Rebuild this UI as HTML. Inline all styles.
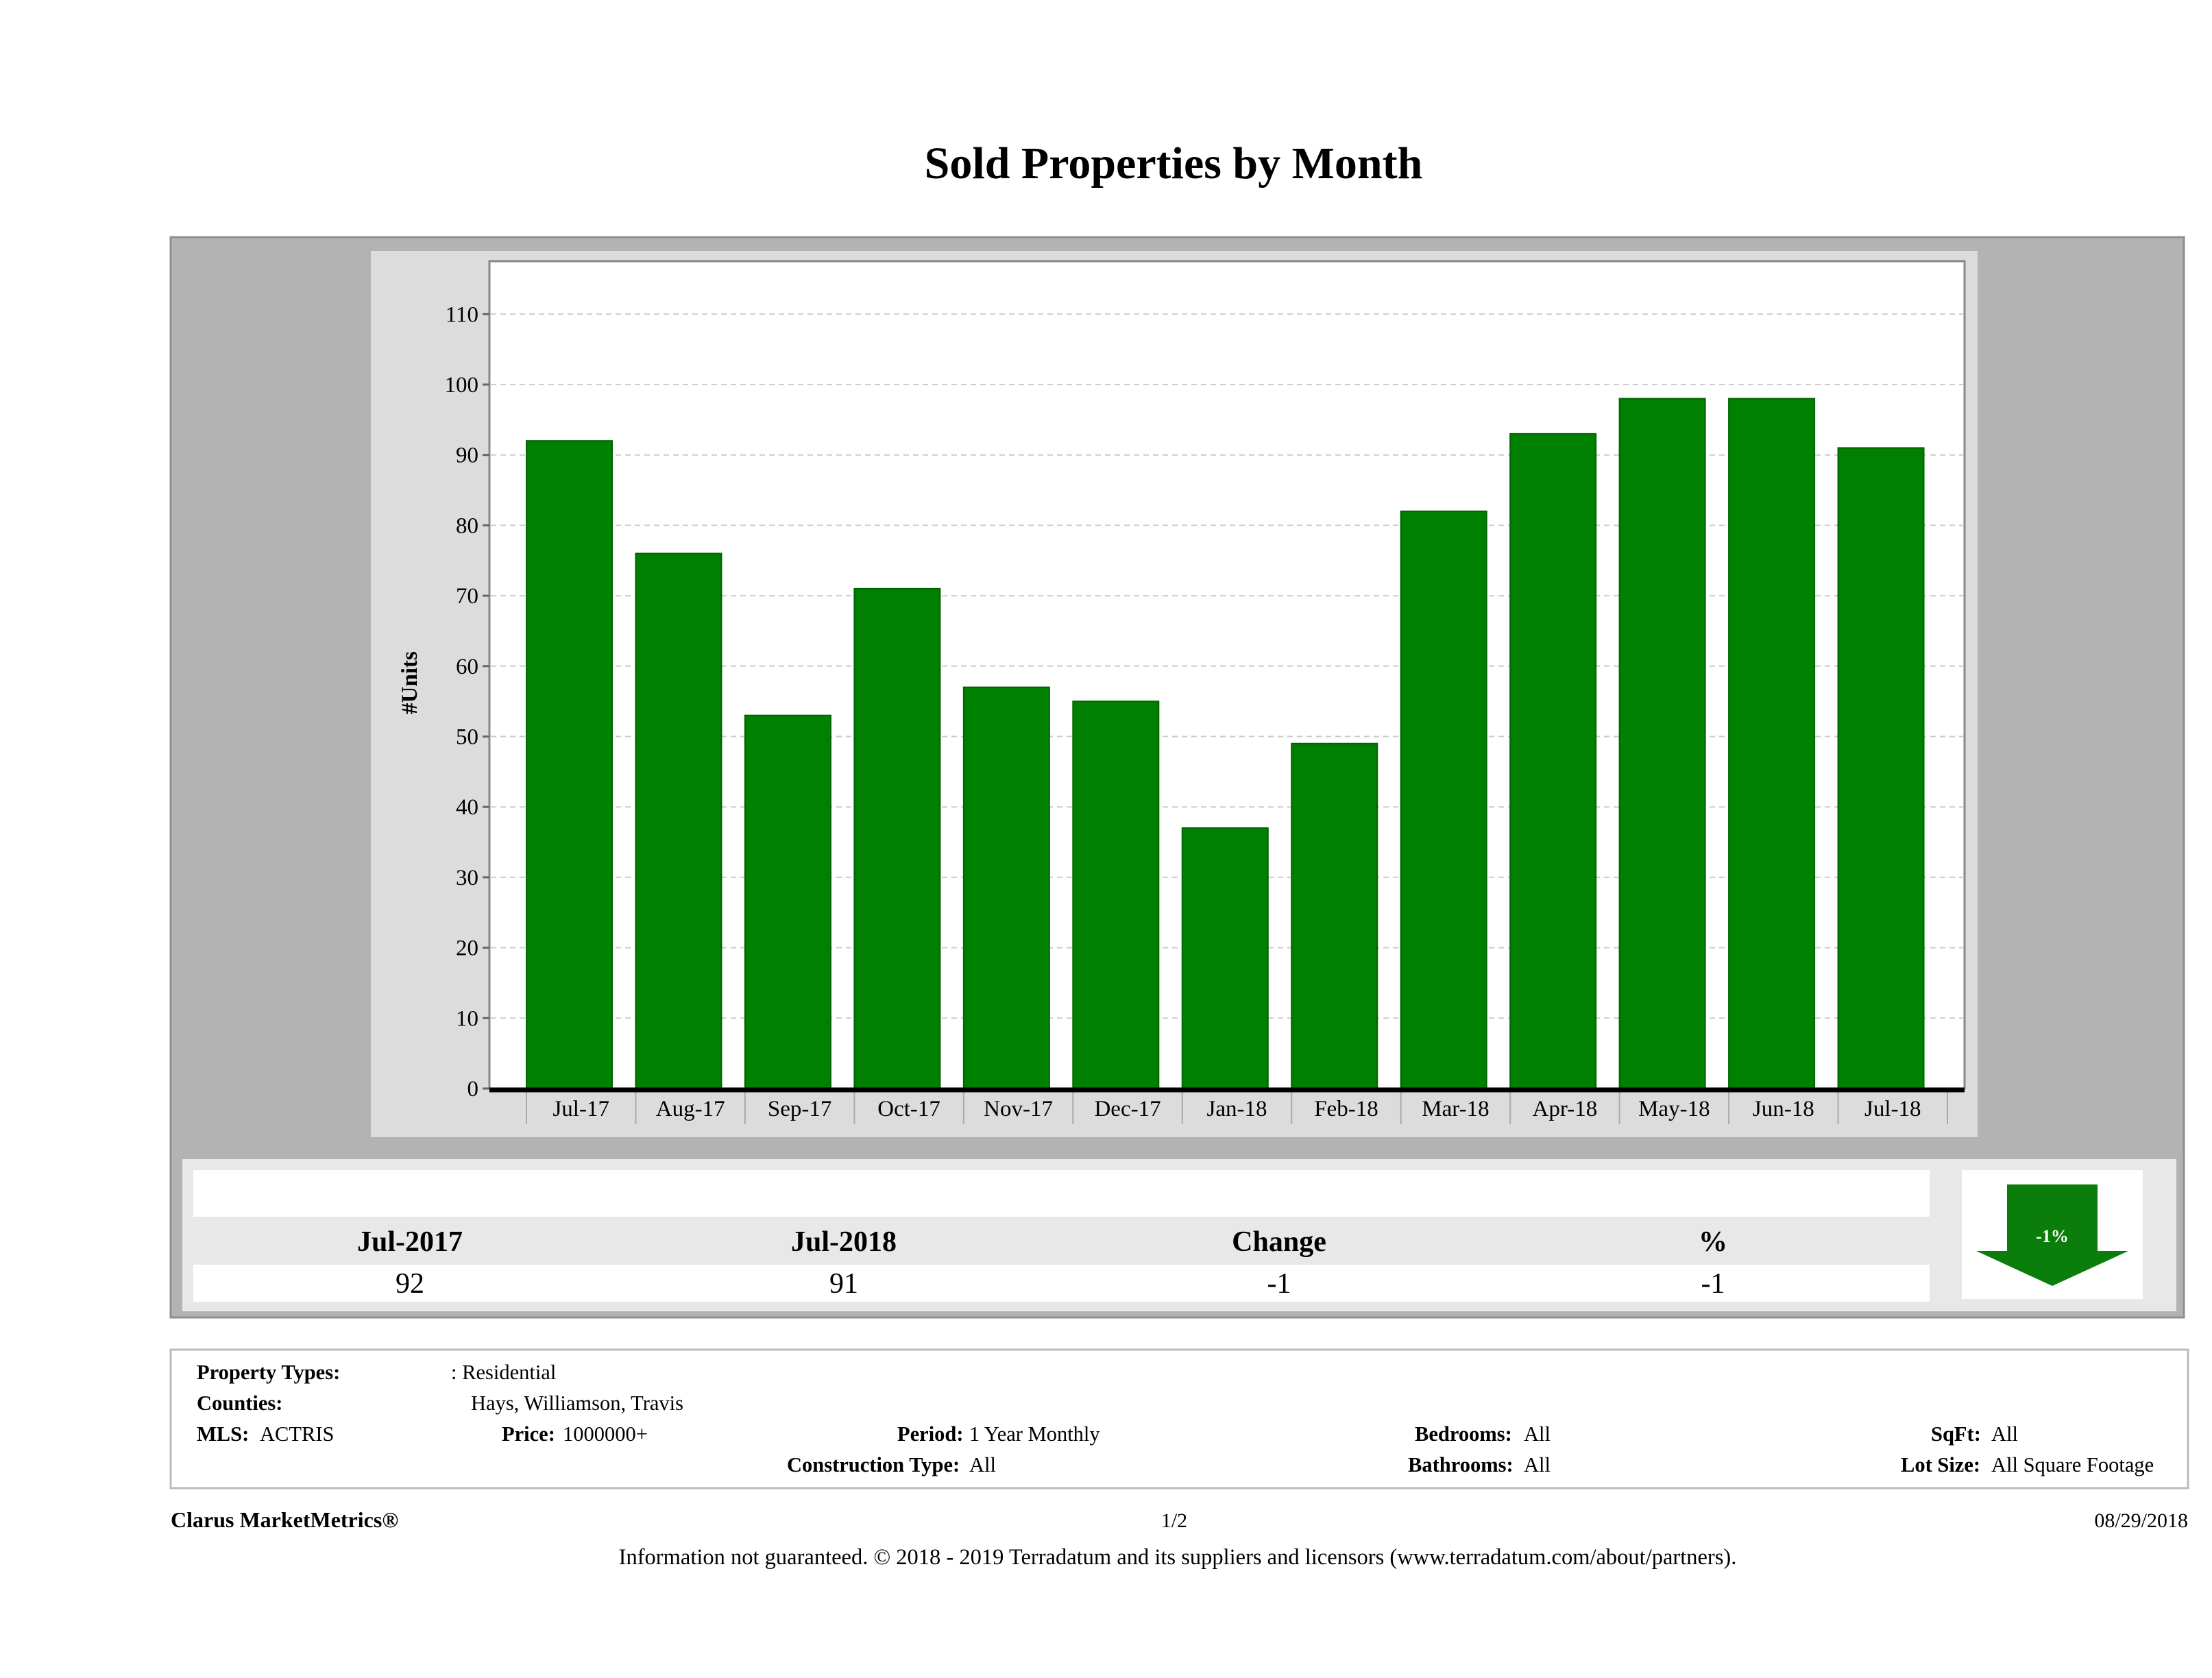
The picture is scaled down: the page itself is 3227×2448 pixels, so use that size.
<!DOCTYPE html>
<html><head><meta charset="utf-8"><style>
html,body{margin:0;padding:0;background:#fff}
svg{display:block;font-family:"Liberation Serif",serif}
</style></head><body>
<svg id="pg" width="3227" height="2448" viewBox="0 0 3227 2448" xmlns="http://www.w3.org/2000/svg">
<text x="1712" y="260" font-size="66" font-weight="bold" text-anchor="middle">Sold Properties by Month</text>
<rect x="249" y="346" width="2937" height="1576" fill="#b3b3b3" stroke="#8f8f8f" stroke-width="3"/>
<rect x="541" y="366" width="2344" height="1293" fill="#dcdcdc"/>
<rect x="714" y="381" width="2152" height="1207" fill="#fff" stroke="#888" stroke-width="3"/>
<g id="grid"></g><g id="bars"></g><g id="yt"></g><g id="xt"></g>
<line x1="714" y1="1590" x2="2866" y2="1590" stroke="#000" stroke-width="7"/>
<text transform="translate(608,996) rotate(-90)" font-size="33" font-weight="bold" text-anchor="middle">#Units</text>

<rect x="266" y="1691" width="2909" height="222" fill="#e8e8e8"/>
<rect x="282" y="1707" width="2533" height="68" fill="#fff"/>
<rect x="282" y="1845" width="2533" height="54" fill="#fff"/>
<g font-size="42" font-weight="bold" text-anchor="middle">
<text x="598" y="1825">Jul-2017</text>
<text x="1231" y="1825">Jul-2018</text>
<text x="1866" y="1825">Change</text>
<text x="2499" y="1825">%</text>
</g>
<g font-size="42" text-anchor="middle">
<text x="598" y="1886">92</text>
<text x="1231" y="1886">91</text>
<text x="1866" y="1886">-1</text>
<text x="2499" y="1886">-1</text>
</g>
<rect x="2862" y="1707" width="264" height="188" fill="#fff"/>
<polygon points="2928,1728 3060,1728 3060,1825 3105,1825 2994,1876 2883,1825 2928,1825" fill="#0a7d0a"/>
<text x="2994" y="1812" font-size="26" font-weight="bold" fill="#fff" text-anchor="middle">-1%</text>

<rect x="249" y="1969" width="2943" height="202" fill="#fff" stroke="#bbb" stroke-width="3"/>
<g font-size="30.5">
<text x="287" y="2012" font-weight="bold">Property Types:</text>
<text x="658" y="2012">: Residential</text>
<text x="287" y="2057" font-weight="bold">Counties:</text>
<text x="687" y="2057">Hays, Williamson, Travis</text>
<text x="287" y="2102" font-weight="bold">MLS:</text>
<text x="379" y="2102">ACTRIS</text>
<text x="732" y="2102" font-weight="bold">Price:</text>
<text x="821" y="2102">1000000+</text>
<text x="1309" y="2102" font-weight="bold">Period:</text>
<text x="1414" y="2102">1 Year Monthly</text>
<text x="1148" y="2147" font-weight="bold">Construction Type:</text>
<text x="1414" y="2147">All</text>
<text x="2064" y="2102" font-weight="bold">Bedrooms:</text>
<text x="2223" y="2102">All</text>
<text x="2054" y="2147" font-weight="bold">Bathrooms:</text>
<text x="2223" y="2147">All</text>
<text x="2817" y="2102" font-weight="bold">SqFt:</text>
<text x="2905" y="2102">All</text>
<text x="2773" y="2147" font-weight="bold">Lot Size:</text>
<text x="2905" y="2147">All Square Footage</text>
</g>
<text x="249" y="2228" font-size="32" font-weight="bold">Clarus MarketMetrics®</text>
<text x="1713" y="2228" font-size="30" text-anchor="middle">1/2</text>
<text x="3192" y="2228" font-size="30" text-anchor="end">08/29/2018</text>
<text x="1718" y="2282" font-size="32.5" text-anchor="middle">Information not guaranteed. © 2018 - 2019 Terradatum and its suppliers and licensors (www.terradatum.com/about/partners).</text>
</svg>
<script>
const categories=["Jul-17","Aug-17","Sep-17","Oct-17","Nov-17","Dec-17","Jan-18","Feb-18","Mar-18","Apr-18","May-18","Jun-18","Jul-18"];
const soldUnits=[92,76,53,71,57,55,37,49,82,93,98,98,91];
const yTicks=[0,10,20,30,40,50,60,70,80,90,100,110];
const NS="http://www.w3.org/2000/svg";
const y0=1588,pxPerUnit=10.27,xStart=768,xEnd=2841,bw=125;
const catW=(xEnd-xStart)/categories.length;
function yScale(v){return y0-v*pxPerUnit;}
function xScale(i){return xStart+i*catW;}
function mk(tag,attrs,parent){const e=document.createElementNS(NS,tag);for(const k in attrs)e.setAttribute(k,attrs[k]);parent.appendChild(e);return e;}
const grid=document.getElementById('grid'),bars=document.getElementById('bars'),yt=document.getElementById('yt'),xt=document.getElementById('xt');
yTicks.forEach(t=>{
  const y=yScale(t);
  if(t>0){const g=mk('line',{x1:716,x2:2864,y1:y,y2:y,stroke:'#ccc','stroke-width':2,'stroke-dasharray':'8 6'},grid);
  
  }
  const tk=mk('line',{x1:704,x2:714,y1:y,y2:y,stroke:'#666','stroke-width':3},yt);
  
  
  const tx=mk('text',{x:698,y:y+11,'font-size':33,'text-anchor':'end'},yt);
  tx.textContent=t;
  
  
});
categories.forEach((c,i)=>{
  const x=xScale(i),v=soldUnits[i];
  const r=mk('rect',{x:x,y:yScale(v),width:bw,height:y0-yScale(v),fill:'#008000',stroke:'#006400','stroke-width':2},bars);
  
  
  const s=mk('line',{x1:x,x2:x,y1:1593,y2:1640,stroke:'#aaa','stroke-width':2},xt);
  
  
  const tx=mk('text',{x:x+catW/2,y:1628,'font-size':33,'text-anchor':'middle'},xt);
  tx.textContent=c;
  
  
});
const s2=mk('line',{x1:xEnd,x2:xEnd,y1:1593,y2:1640,stroke:'#aaa','stroke-width':2},xt);


</script>
</body></html>
